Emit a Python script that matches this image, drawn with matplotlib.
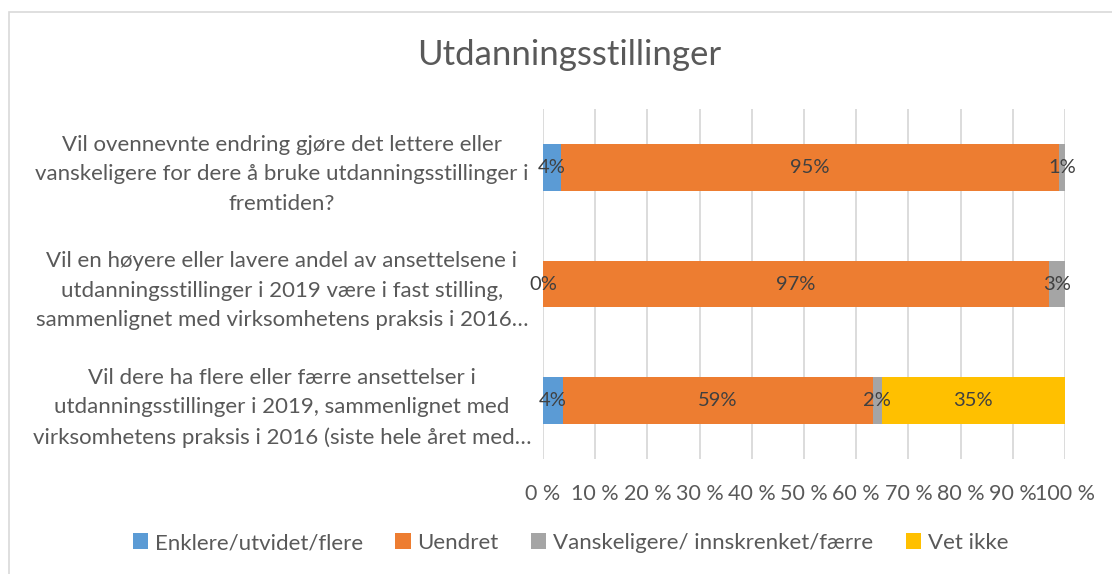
import matplotlib.pyplot as plt
import matplotlib.patches as mpatches
import numpy as np

plt.rcParams['font.family'] = ['Lato', 'DejaVu Sans']

title = 'Utdanningsstillinger'
questions = [
    'Vil ovennevnte endring gjøre det lettere eller\nvanskeligere for dere å bruke utdanningsstillinger i\nfremtiden?',
    'Vil en høyere eller lavere andel av ansettelsene i\nutdanningsstillinger i 2019 være i fast stilling,\nsammenlignet med virksomhetens praksis i 2016…',
    'Vil dere ha flere eller færre ansettelser i\nutdanningsstillinger i 2019, sammenlignet med\nvirksomhetens praksis i 2016 (siste hele året med…',
]
series = ['Enklere/utvidet/flere', 'Uendret', 'Vanskeligere/ innskrenket/færre', 'Vet ikke']
enklere = [3.5, 0.0, 3.8]
uendret = [95.3, 97.0, 59.4]
vanskeligere = [1.2, 3.0, 1.7]
vet_ikke = [None, None, 35.1]
colors = ['#5B9BD5', '#ED7D31', '#A5A5A5', '#FFC000']

text_col = '#595959'
label_col = '#404040'

fig = plt.figure(figsize=(11.12, 5.74), dpi=100)
ax = fig.add_axes([543 / 1112, 1 - 459 / 574, 522 / 1112, 350 / 574])

# light border around the chart area
fig.patches.append(mpatches.Rectangle((9 / 1112, -0.05), 1.1, 1 - 12 / 574 + 0.05,
                                      transform=fig.transFigure, fill=False,
                                      edgecolor='#D9D9D9', linewidth=1.2))

y = np.arange(len(questions))
left = np.zeros(len(questions))
for name, vals, col in zip(series, [enklere, uendret, vanskeligere, vet_ikke], colors):
    w = np.array([v if v is not None else 0.0 for v in vals])
    ax.barh(y, w, left=left, height=0.4, color=col, label=name, zorder=3)
    for i, v in enumerate(vals):
        if v is None:
            continue
        ax.text(left[i] + w[i] / 2, y[i], f'{v:.0f}%', ha='center', va='center',
                fontsize=14.5, color=label_col, zorder=4)
    left += w

ax.set_xlim(0, 100)
ax.set_ylim(len(questions) - 0.5, -0.5)
ax.set_xticks(np.arange(0, 101, 10))
ax.set_xticklabels([f'{t} %' for t in range(0, 101, 10)])
ax.grid(axis='x', color='#D9D9D9', linewidth=1.3, zorder=0)
ax.set_yticks(y)
ax.set_yticklabels(questions, ha='center', multialignment='center', linespacing=1.6)
ax.tick_params(axis='y', length=0, pad=188, labelsize=16, labelcolor=text_col)
ax.tick_params(axis='x', length=0, pad=18, labelsize=15.5, labelcolor=text_col)
for s in ax.spines.values():
    s.set_visible(False)

fig.text(0.512, 1 - 55 / 574, title, ha='center', va='center', fontsize=25, color=text_col)

fig.legend(loc='center', bbox_to_anchor=(0.513, 1 - 543 / 574), ncol=4, frameon=False,
           fontsize=16, labelcolor=text_col, handlelength=0.7, handleheight=0.7,
           handletextpad=0.3, columnspacing=1.45)

fig.savefig('out.png', dpi=100)
